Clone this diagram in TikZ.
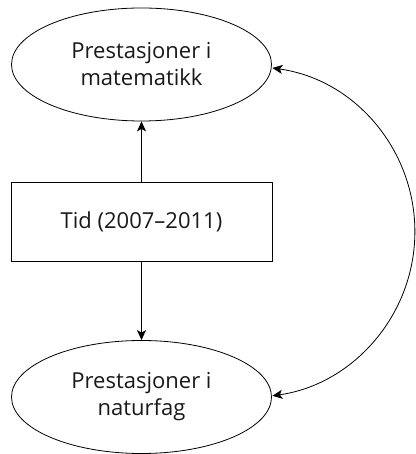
\documentclass[tikz,border=0pt]{standalone}
\usepackage{fontspec}
\setmainfont{Open Sans}
\usetikzlibrary{shapes.geometric,arrows.meta}
\begin{document}
\begin{tikzpicture}[x=1pt,y=1pt,
  every node/.style={font=\fontsize{22}{27}\selectfont, align=center, line width=0.8pt, inner sep=0pt, text=black!90},
  oval/.style={draw, ellipse, minimum width=260pt, minimum height=113pt},
  boxnode/.style={draw, rectangle, minimum width=261pt, minimum height=79pt},
  conn/.style={line width=0.8pt, -{Stealth[length=10pt,width=9pt,inset=2.5pt]}},
  dconn/.style={line width=0.8pt, {Stealth[length=10pt,width=9pt,inset=2.5pt]}-{Stealth[length=10pt,width=9pt,inset=2.5pt]}}]
\useasboundingbox (0,0) rectangle (415,454);
\node[oval] (m) at (141.5,389.5) {Prestasjoner i\\matematikk};
\node[boxnode] (t) at (141.5,232.5) {Tid (2007–2011)};
\node[oval] (n) at (141.5,57) {Prestasjoner i\\naturfag};
\draw[conn] (t.north) -- (m.south);
\draw[conn] (t.south) -- (n.north);
\draw[dconn] (m.east) ++(0.5,-3.5) arc[start angle=82, end angle=-82, radius=165.5pt];
\end{tikzpicture}
\end{document}
